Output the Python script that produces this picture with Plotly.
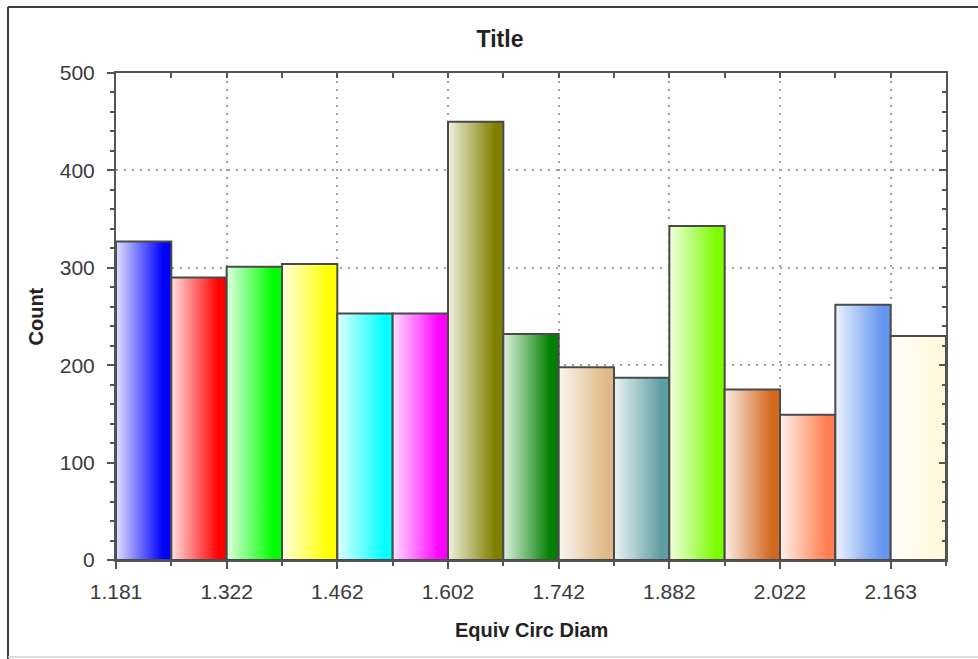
import plotly.graph_objects as go

# Histogram of equivalent circular diameter
bin_start = 1.181
bin_width = 0.07014
counts = [327, 290, 301, 304, 253, 253, 450, 232, 198, 187, 343, 175, 149, 262, 230]
bar_colors = ["#0000FF", "#FF0000", "#00FF00", "#FFFF00", "#00FFFF", "#FF00FF",
              "#808000", "#008000", "#DEB887", "#5F9EA0", "#7CFC00", "#D2691E",
              "#FF7F50", "#6495ED", "#FFF8DC"]
tick_labels = ["1.181", "1.322", "1.462", "1.602", "1.742", "1.882", "2.022", "2.163"]

n_bins = len(counts)
edges = [bin_start + i * bin_width for i in range(n_bins + 1)]
x_min, x_max = edges[0], edges[-1]
y_max = 500


def tint(hex_color, amount):
    """Blend a colour towards white; amount=0 -> colour, amount=1 -> white."""
    h = hex_color.lstrip("#")
    r, g, b = (int(h[i:i + 2], 16) for i in (0, 2, 4))
    mix = lambda c: int(round(c + (255 - c) * amount))
    return f"rgb({mix(r)},{mix(g)},{mix(b)})"


fig = go.Figure()

# each bar is a filled polygon so it can carry a left-to-right gradient
for i, (c, col) in enumerate(zip(counts, bar_colors)):
    x0, x1 = edges[i], edges[i + 1]
    fig.add_trace(go.Scatter(
        x=[x0, x0, x1, x1, x0],
        y=[0, c, c, 0, 0],
        mode="lines",
        fill="toself",
        fillgradient=dict(type="horizontal",
                          colorscale=[[0, tint(col, 0.88)], [0.85, col], [1, col]]),
        line=dict(color="#4a4a4a", width=2),
        hoverinfo="skip",
        showlegend=False,
    ))

tick_font = dict(family="Liberation Sans, Arial, sans-serif", size=21, color="#3a3a3a")
axis_line = "#555555"
grid_dash = "2px,6px"

fig.update_layout(
    width=978, height=659,
    margin=dict(l=116, r=32, t=73, b=99),
    paper_bgcolor="white",
    plot_bgcolor="white",
    title=dict(text="<b>Title</b>", x=500 / 978, xref="container", xanchor="center",
               y=1 - 39 / 659, yref="container", yanchor="middle",
               font=dict(family="Liberation Sans, Arial, sans-serif", size=23, color="#222222")),
    xaxis=dict(
        range=[x_min, x_max], showline=True, linecolor=axis_line, linewidth=2,
        ticks="outside", ticklen=7, tickwidth=1.5, tickcolor=axis_line,
        tickmode="array", tickvals=edges[::2], ticktext=tick_labels,
        tickfont=tick_font, ticklabelstandoff=5,
        showgrid=True, gridcolor="#a0a0a0", griddash=grid_dash, gridwidth=1.5,
        minor=dict(tickmode="array", tickvals=edges[1::2], ticks="outside",
                   ticklen=4, tickwidth=1.5, tickcolor=axis_line, showgrid=False),
        zeroline=False, fixedrange=True,
    ),
    yaxis=dict(
        range=[0, y_max], showline=True, linecolor=axis_line, linewidth=2,
        ticks="outside", ticklen=7, tickwidth=1.5, tickcolor=axis_line,
        tick0=0, dtick=100, tickfont=tick_font, ticklabelstandoff=8,
        showgrid=True, gridcolor="#a0a0a0", griddash=grid_dash, gridwidth=1.5,
        minor=dict(dtick=20, ticks="outside", ticklen=4, tickwidth=1.5,
                   tickcolor=axis_line, showgrid=False),
        zeroline=False, fixedrange=True,
    ),
    # mirrored top and right axes with inward ticks
    xaxis2=dict(
        overlaying="x", side="top", range=[x_min, x_max], showline=True,
        linecolor=axis_line, linewidth=2, ticks="inside", ticklen=5, tickwidth=1.5,
        tickcolor=axis_line, tickmode="array", tickvals=edges,
        showticklabels=False, showgrid=False, zeroline=False, fixedrange=True,
    ),
    yaxis2=dict(
        overlaying="y", side="right", range=[0, y_max], showline=True,
        linecolor=axis_line, linewidth=2, ticks="inside", ticklen=7, tickwidth=1.5,
        tickcolor=axis_line, tick0=0, dtick=100,
        minor=dict(dtick=20, ticks="inside", ticklen=4, tickwidth=1.5, tickcolor=axis_line),
        showticklabels=False, showgrid=False, zeroline=False, fixedrange=True,
    ),
)

# invisible anchors so the mirrored axes are rendered
fig.add_trace(go.Scatter(x=[x_min], y=[0], xaxis="x2", yaxis="y2", mode="markers",
                         marker=dict(opacity=0), hoverinfo="skip", showlegend=False))

title_font = dict(family="Liberation Sans, Arial, sans-serif", size=20, color="#222222")
fig.add_annotation(text="<b>Equiv Circ Diam</b>", xref="paper", yref="paper",
                   x=0.5, y=-(630 - 560) / 487, xanchor="center", yanchor="middle",
                   showarrow=False, font=title_font)
fig.add_annotation(text="<b>Count</b>", xref="paper", yref="paper",
                   x=(35 - 116) / 830, y=0.5, xanchor="center", yanchor="middle",
                   textangle=-90, showarrow=False, font=title_font)

# outer frame
fx0 = (8 - 116) / 830
fy_top = 1 + (73 - 7) / 487
fy_bot = -(657 - 560) / 487
fig.add_shape(type="line", xref="paper", yref="paper", x0=fx0, x1=1.1, y0=fy_top, y1=fy_top,
              line=dict(color="#3c3c3c", width=2))
fig.add_shape(type="line", xref="paper", yref="paper", x0=fx0, x1=fx0, y0=fy_top, y1=-0.25,
              line=dict(color="#3c3c3c", width=2))
fig.add_shape(type="line", xref="paper", yref="paper", x0=fx0, x1=1.1, y0=fy_bot, y1=fy_bot,
              line=dict(color="#d0d0d0", width=1.5))

fig.write_html("out.html")
